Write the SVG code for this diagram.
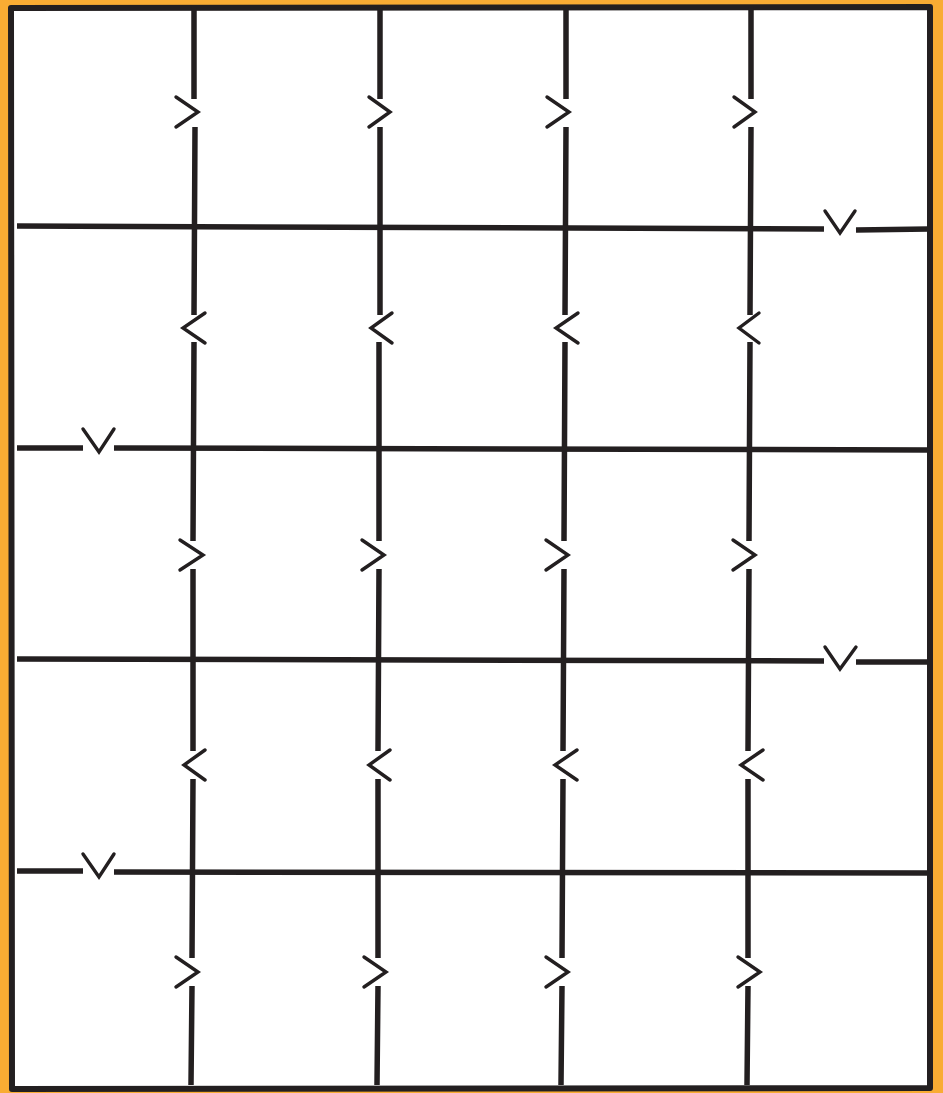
<svg xmlns="http://www.w3.org/2000/svg" width="943" height="1093" viewBox="0 0 943 1093">
<style>
.ln{fill:none;stroke:#231f20;stroke-width:5.5;stroke-linecap:butt}
.bd{fill:none;stroke:#231f20;stroke-width:6;stroke-linejoin:round}
.ch{fill:none;stroke:#231f20;stroke-width:3.4;stroke-linecap:round;stroke-linejoin:miter}
</style>
<rect x="0" y="0" width="943" height="1093" fill="#f9ac33"/>
<rect x="9" y="6" width="922" height="1083" fill="#ffffff"/>
<g id="frame">
<path class="bd" d="M11,8 L930,7 L930,1088 L12,1089 Z"/>
</g>
<g id="grid">
<path class="ln" d="M194,7 L194,99 M195,127 L194,315 M194,342 L193,541 M193,569 L193,751 M193,779 L192,958 M192,986 L191,1085"/>
<path class="ln" d="M380,7 L380,99 M380,127 L380,315 M379,342 L379,541 M379,569 L378,751 M378,779 L378,958 M378,986 L377,1085"/>
<path class="ln" d="M566,7 L566,99 M566,127 L565,315 M565,342 L564,541 M564,569 L563,751 M563,779 L562,958 M562,986 L561,1085"/>
<path class="ln" d="M751,7 L751,99 M751,127 L750,315 M750,342 L749,541 M749,569 L748,751 M748,779 L748,958 M748,986 L747,1085"/>
<path class="ln" d="M17,226 L824,229 M856,230 L929,229"/>
<path class="ln" d="M17,448 L83,448 M114,448 L929,450"/>
<path class="ln" d="M17,659 L824,661 M856,662 L929,662"/>
<path class="ln" d="M17,871 L83,871 M114,872 L929,873"/>
</g>
<g id="connectors">
<path class="ch" d="M176,97 L198,112 L176,127"/>
<path class="ch" d="M369,97 L390,112 L369,127"/>
<path class="ch" d="M547,97 L569,112 L547,127"/>
<path class="ch" d="M734,97 L755,112 L734,127"/>
<path class="ch" d="M825,211 L840,233 L855,211"/>
<path class="ch" d="M205,313 L183,328 L205,343"/>
<path class="ch" d="M392,313 L371,328 L392,343"/>
<path class="ch" d="M578,313 L556,328 L578,343"/>
<path class="ch" d="M759,313 L739,328 L759,343"/>
<path class="ch" d="M83,429 L99,452 L114,429"/>
<path class="ch" d="M180,540 L203,555 L180,570"/>
<path class="ch" d="M362,540 L384,555 L362,570"/>
<path class="ch" d="M546,540 L568,555 L546,570"/>
<path class="ch" d="M733,540 L755,555 L733,570"/>
<path class="ch" d="M825,647 L840,669 L856,647"/>
<path class="ch" d="M205,750 L184,765 L205,780"/>
<path class="ch" d="M390,750 L369,765 L390,780"/>
<path class="ch" d="M577,750 L555,765 L577,780"/>
<path class="ch" d="M763,750 L741,765 L763,780"/>
<path class="ch" d="M83,854 L99,877 L114,854"/>
<path class="ch" d="M176,957 L198,972 L176,987"/>
<path class="ch" d="M364,957 L386,972 L364,987"/>
<path class="ch" d="M546,957 L568,972 L546,987"/>
<path class="ch" d="M738,957 L760,972 L738,987"/>
</g>
</svg>
